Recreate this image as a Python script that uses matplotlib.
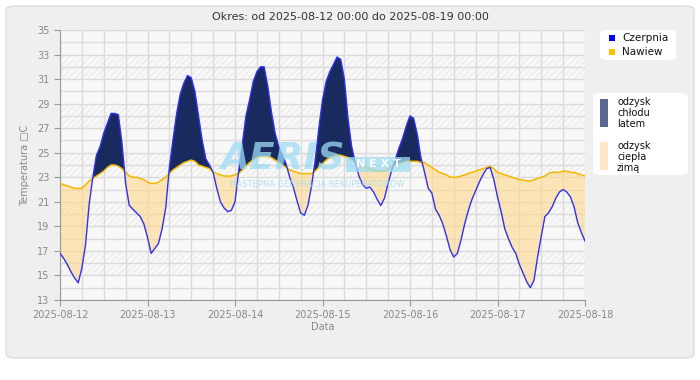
import numpy as np
import pandas as pd
import matplotlib
matplotlib.use("Agg")
import matplotlib.pyplot as plt
import matplotlib.dates as mdates
from matplotlib.patches import FancyBboxPatch, Rectangle

plt.rcParams["font.family"] = ["DejaVu Sans"]
plt.rcParams["hatch.linewidth"] = 0.6

# ---- dane (co godzinę od 2025-08-12 00:00) ----
czerpnia = [
    16.8, 16.4, 15.9, 15.3, 14.8, 14.4, 15.6, 17.5, 20.8, 23.0, 24.8, 25.5,
    26.6, 27.4, 28.2, 28.2, 28.1, 25.8, 22.5, 20.7, 20.4, 20.1, 19.8, 19.2,
    18.1, 16.8, 17.2, 17.6, 18.8, 20.5, 23.8, 26.1, 28.2, 29.8, 30.7, 31.3,
    31.1, 30.0, 28.0, 26.0, 24.5, 24.0, 23.4, 22.1, 21.0, 20.5, 20.2, 20.3,
    21.0, 23.5, 25.7, 28.0, 29.3, 30.8, 31.6, 32.0, 32.0, 30.4, 28.3, 26.6,
    25.5, 24.8, 24.1, 23.0, 22.2, 21.1, 20.1, 19.9, 20.7, 22.3, 24.4, 27.0,
    29.3, 30.8, 31.6, 32.2, 32.8, 32.6, 31.0, 27.8, 25.5, 24.2, 23.1, 22.4,
    22.1, 22.2, 21.8, 21.2, 20.7, 21.3, 22.5, 23.6, 24.5, 25.4, 26.2, 27.2,
    28.0, 27.8, 26.5, 24.6, 23.4, 22.1, 21.7, 20.4, 19.9, 19.2, 18.2, 17.1,
    16.5, 16.8, 17.9, 19.2, 20.3, 21.2, 21.9, 22.6, 23.2, 23.7, 23.8, 22.8,
    21.4, 20.2, 18.8, 18.0, 17.3, 16.8, 15.9, 15.2, 14.5, 14.0, 14.6, 16.5,
    18.2, 19.8, 20.1, 20.6, 21.3, 21.8, 22.0, 21.8, 21.4, 20.6, 19.3, 18.5,
    17.8,
]
nawiew = [
    22.5, 22.4, 22.3, 22.2, 22.1, 22.1, 22.1, 22.4, 22.7, 22.9, 23.1, 23.3,
    23.5, 23.8, 24.0, 24.0, 23.9, 23.7, 23.4, 23.1, 23.0, 23.0, 22.9, 22.8,
    22.6, 22.5, 22.5, 22.6, 22.8, 23.0, 23.3, 23.6, 23.8, 24.0, 24.2, 24.3,
    24.4, 24.3, 24.0, 23.9, 23.8, 23.7, 23.4, 23.3, 23.2, 23.1, 23.1, 23.1,
    23.2, 23.3, 23.6, 23.9, 24.2, 24.4, 24.6, 24.7, 24.7, 24.7, 24.6, 24.4,
    24.2, 24.0, 23.8, 23.6, 23.5, 23.4, 23.3, 23.3, 23.3, 23.3, 23.5, 23.8,
    24.1, 24.4, 24.6, 24.7, 24.8, 24.8, 24.7, 24.6, 24.4, 24.2, 24.0, 23.9,
    23.8, 23.7, 23.6, 23.5, 23.5, 23.5, 23.7, 23.9, 24.0, 24.1, 24.2, 24.3,
    24.3, 24.3, 24.3, 24.2, 24.2, 24.0, 23.8, 23.6, 23.4, 23.3, 23.2, 23.0,
    23.0, 23.0, 23.1, 23.2, 23.3, 23.4, 23.5, 23.6, 23.7, 23.8, 23.9, 23.7,
    23.4, 23.3, 23.2, 23.1, 23.0, 22.9, 22.8, 22.8, 22.7, 22.7, 22.8, 22.9,
    23.0, 23.1, 23.3, 23.4, 23.4, 23.4, 23.5, 23.5, 23.4, 23.4, 23.3, 23.2,
    23.1,
]
czas = pd.date_range("2025-08-12 00:00", periods=len(czerpnia), freq="h")
yticks = list(range(13, 36, 2))
pasy = [(15, 17), (19, 21), (23, 25), (27, 29), (31, 33)]

W, H = 700, 380
fig = plt.figure(figsize=(7, 3.8), dpi=100)
fig.patch.set_facecolor("white")
def fx(x): return x / W
def fy(y): return 1 - y / H

# panel tła
fig.patches.append(FancyBboxPatch((fx(6), fy(358)), fx(688), 352 / H,
                   boxstyle="round,pad=0,rounding_size=0.012", fc="#efefef",
                   ec="#dddddd", lw=1, transform=fig.transFigure, zorder=-5))

ax = fig.add_axes([fx(60), fy(300), 525 / W, 270 / H])
ax.set_zorder(1)
ax.set_facecolor("#f8f8f8")
for a, b in pasy:
    ax.axhspan(a, b, fc="none", ec="#e6e6e6", hatch="/////", lw=0, zorder=0)
c = np.array(czerpnia); n = np.array(nawiew)
ax.fill_between(czas, c, n, where=c >= n, interpolate=True, color="#182a5e", lw=0, zorder=2)
ax.fill_between(czas, c, n, where=c <= n, interpolate=True, color="#ffd88a", alpha=0.6, lw=0, zorder=2)
ax.plot(czas, n, color="#f5b800", lw=1.1, zorder=3)
ax.plot(czas, c, color="#3030f0", lw=1.0, zorder=4)

ax.set_ylim(13, 35)
ax.set_yticks(yticks)
ax.set_yticks(range(13, 36), minor=True)
ax.set_xlim(czas[0], czas[-1])
ax.xaxis.set_major_locator(mdates.DayLocator())
ax.xaxis.set_minor_locator(mdates.HourLocator(byhour=[6, 12, 18]))
ax.xaxis.set_major_formatter(mdates.DateFormatter("%Y-%m-%d"))
ax.grid(which="both", color="#dadada", lw=1, zorder=1)
ax.set_axisbelow(True)
for s in ["top", "right"]:
    ax.spines[s].set_visible(False)
for s in ["left", "bottom"]:
    ax.spines[s].set_color("#999999")
ax.tick_params(which="major", length=4, color="#999999", labelcolor="#888888", labelsize=7)
ax.tick_params(which="minor", length=0)
ax.set_xlabel("Data", color="#888888", fontsize=7)
ax.xaxis.set_label_coords(0.5, -0.08)
ax.set_ylabel("Temperatura \u25a1C", color="#888888", fontsize=7, labelpad=5)

fig.text(0.5, fy(17), "Okres: od 2025-08-12 00:00 do 2025-08-19 00:00", ha="center",
         va="center", fontsize=8, color="#333333")

# znak wodny
fig.text(fx(283), fy(159), "AERIS", ha="center", va="center", fontsize=27, weight="bold",
         style="italic", color="#9fdcf5", alpha=0.75, zorder=5)
fig.patches.append(Rectangle((fx(346), fy(172)), fx(64), 15 / H, fc="#9fdcf5", alpha=0.75,
                   ec="none", transform=fig.transFigure, zorder=5))
fig.text(fx(378), fy(164.5), "N E X T", ha="center", va="center", fontsize=8, weight="bold",
         color="white", alpha=0.9, zorder=6)
fig.text(fx(317), fy(184), "NASTĘPNA GENERACJA REKUPERATORÓW", ha="center", va="center",
         fontsize=6, color="#9fdcf5", alpha=0.8, zorder=5)

# legenda 1
fig.patches.append(FancyBboxPatch((fx(600), fy(60)), fx(76), 30 / H,
                   boxstyle="round,pad=0,rounding_size=0.01", fc="white", ec="none",
                   transform=fig.transFigure, zorder=1))
for yy, col, lab in [(38, "#0000ff", "Czerpnia"), (52, "#ffc000", "Nawiew")]:
    fig.patches.append(Rectangle((fx(609), fy(yy + 3)), fx(6), 6 / H, fc=col, ec="none",
                       transform=fig.transFigure, zorder=2))
    fig.text(fx(622), fy(yy), lab, va="center", fontsize=7.5, color="#111111", zorder=3)

# legenda 2
fig.patches.append(FancyBboxPatch((fx(593), fy(175)), fx(95), 82 / H,
                   boxstyle="round,pad=0,rounding_size=0.012", fc="white", ec="none",
                   transform=fig.transFigure, zorder=1))
fig.patches.append(Rectangle((fx(600), fy(127)), fx(8), 28 / H, fc="#5b6990", ec="none",
                   transform=fig.transFigure, zorder=2))
fig.patches.append(Rectangle((fx(600), fy(170)), fx(8), 28 / H, fc="#fde8c6", ec="none",
                   transform=fig.transFigure, zorder=2))
for i, t in enumerate(["odzysk", "chłodu", "latem"]):
    fig.text(fx(617), fy(102 + 11 * i), t, va="center", fontsize=7, color="#111111", zorder=3)
for i, t in enumerate(["odzysk", "ciepła", "zimą"]):
    fig.text(fx(617), fy(146 + 11 * i), t, va="center", fontsize=7, color="#111111", zorder=3)

fig.savefig("out.png", dpi=100)
